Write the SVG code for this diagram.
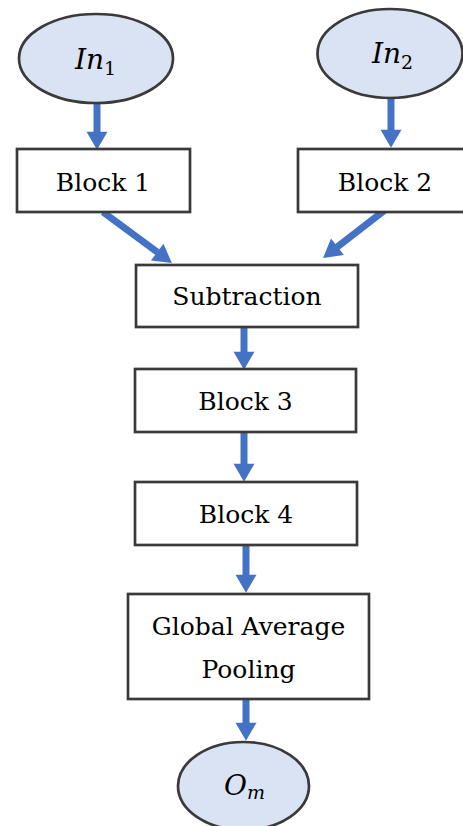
<svg xmlns="http://www.w3.org/2000/svg" width="463" height="826" viewBox="0 0 463 826">
<style>
.box{fill:#fff;stroke:#3a3a3a;stroke-width:2.7}
.ell{fill:#dae3f3;stroke:#3a3a3a;stroke-width:2.7}
.lbl{font-family:"DejaVu Serif","Liberation Serif",serif;font-size:25px;fill:#000;text-anchor:middle}
.math{font-family:"DejaVu Serif","Liberation Serif",serif;font-style:italic;font-size:28px;fill:#000}
.sub{font-family:"DejaVu Serif","Liberation Serif",serif;font-size:19px;fill:#000;font-style:normal}
.subi{font-family:"DejaVu Serif","Liberation Serif",serif;font-size:19px;fill:#000;font-style:italic}
.arr{stroke:#4472c4;stroke-width:7;fill:none;marker-end:url(#ah)}
</style>
<defs>
<marker id="ah" markerUnits="strokeWidth" markerWidth="2.6" markerHeight="3" refX="0.05" refY="1.5" orient="auto" overflow="visible">
<path d="M0,0 L2.6,1.5 L0,3 Z" fill="#4472c4"/>
</marker>
</defs>
<rect width="463" height="826" fill="#fff"/>
<g id="connectors">
<line class="arr" x1="97" y1="103" x2="97" y2="132"/>
<line class="arr" x1="391" y1="99" x2="391" y2="130"/>
<line class="arr" x1="103" y1="212" x2="157.5" y2="252.3"/>
<line class="arr" x1="385" y1="210" x2="337.2" y2="247"/>
<line class="arr" x1="244" y1="327" x2="244" y2="352"/>
<line class="arr" x1="244" y1="432" x2="244" y2="464"/>
<line class="arr" x1="246" y1="545" x2="246" y2="575"/>
<line class="arr" x1="246" y1="699" x2="246" y2="723"/>
</g>
<g id="in1">
<ellipse class="ell" cx="96" cy="58.5" rx="77" ry="44.5"/>
<text class="math" x="75" y="69">In<tspan class="sub" dy="6">1</tspan></text>
</g>
<g id="in2">
<ellipse class="ell" cx="390" cy="53.5" rx="72.5" ry="44.5"/>
<text class="math" x="372" y="63">In<tspan class="sub" dy="6">2</tspan></text>
</g>
<g id="block1">
<rect class="box" x="17" y="149" width="173" height="63"/>
<text class="lbl" x="103" y="190.5">Block 1</text>
</g>
<g id="block2">
<rect class="box" x="298" y="149" width="175" height="63"/>
<text class="lbl" x="385" y="190.5">Block 2</text>
</g>
<g id="subtraction">
<rect class="box" x="136" y="265" width="222" height="62"/>
<text class="lbl" x="247" y="305">Subtraction</text>
</g>
<g id="block3">
<rect class="box" x="135" y="369" width="221" height="63"/>
<text class="lbl" x="245.5" y="410">Block 3</text>
</g>
<g id="block4">
<rect class="box" x="135" y="482" width="222" height="63"/>
<text class="lbl" x="246" y="523">Block 4</text>
</g>
<g id="gap">
<rect class="box" x="128" y="594" width="241" height="105"/>
<text class="lbl" x="248.5" y="635">Global Average</text>
<text class="lbl" x="248.5" y="678">Pooling</text>
</g>
<g id="om">
<ellipse class="ell" cx="243.5" cy="786" rx="65.5" ry="44"/>
<text class="math" x="224" y="795">O<tspan class="subi" dy="4">m</tspan></text>
</g>
</svg>
